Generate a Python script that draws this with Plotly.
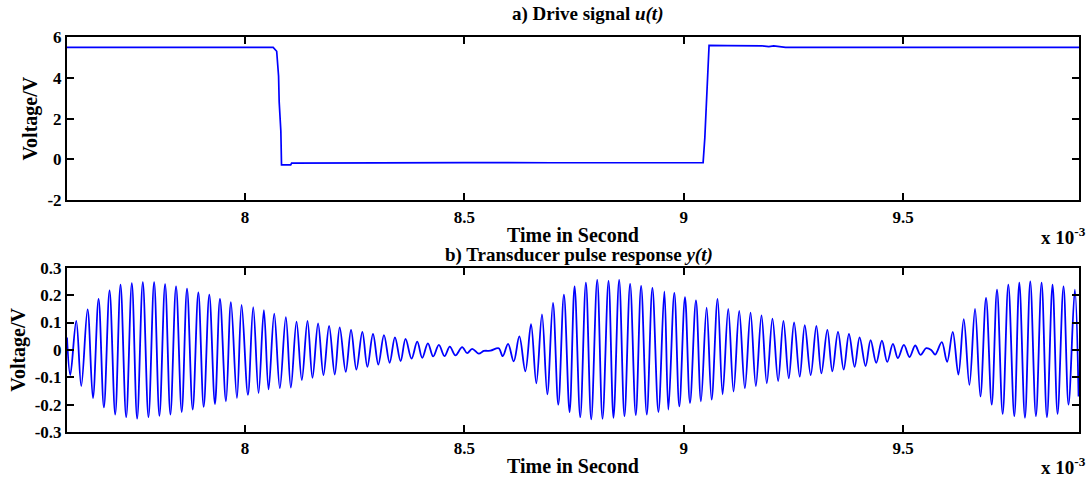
import plotly.graph_objects as go
from plotly.subplots import make_subplots

# ---- data (time in units of 1e-3 s) ----
# a) Drive signal u(t)
u_t = [7.594, 7.70, 7.82, 7.90, 8.064, 8.072, 8.0763, 8.0777, 8.0815, 8.083, 8.104, 8.106,
       8.30, 8.50, 8.70, 8.90, 9.0441, 9.048, 9.0516, 9.0547, 9.0577, 9.10, 9.178, 9.194,
       9.205, 9.232, 9.50, 9.901]
u_v = [5.49, 5.49, 5.51, 5.49, 5.49, 5.30, 4.09, 2.82, 1.38, -0.26, -0.26, -0.18,
       -0.16, -0.15, -0.16, -0.15, -0.15, 1.06, 2.98, 3.94, 5.59, 5.58, 5.57, 5.53,
       5.56, 5.49, 5.49, 5.49]

# b) Transducer pulse response y(t): successive extremes
y_t = [7.5940, 7.6015, 7.6151, 7.6265, 7.6409, 7.6531, 7.6660, 7.6781, 7.6910, 7.7039,
       7.7160, 7.7289, 7.7418, 7.7539, 7.7668, 7.7797, 7.7926, 7.8047, 7.8176, 7.8297,
       7.8426, 7.8555, 7.8676, 7.8805, 7.8934, 7.9056, 7.9184, 7.9313, 7.9427, 7.9564,
       7.9677, 7.9814, 7.9920, 8.0064, 8.0185, 8.0307, 8.0428, 8.0535, 8.0664, 8.0792,
       8.0929, 8.1043, 8.1172, 8.1293, 8.1422, 8.1536, 8.1664, 8.1786, 8.1915, 8.2044,
       8.2157, 8.2294, 8.2415, 8.2537, 8.2673, 8.2787, 8.2916, 8.3037, 8.3166, 8.3295,
       8.3416, 8.3545, 8.3658, 8.3795, 8.3924, 8.4038, 8.4167, 8.4288, 8.4417, 8.4546,
       8.4667, 8.4796, 8.4948, 8.5062, 8.5176, 8.5327, 8.5441, 8.5593, 8.5782, 8.5873,
       8.5995, 8.6123, 8.6252, 8.6389, 8.6518, 8.6639, 8.6768, 8.6889, 8.7018, 8.7140,
       8.7268, 8.7397, 8.7511, 8.7640, 8.7769, 8.7890, 8.8027, 8.8148, 8.8285, 8.8398,
       8.8527, 8.8648, 8.8777, 8.8906, 8.9028, 8.9157, 8.9285, 8.9422, 8.9558, 8.9649,
       8.9785, 8.9899, 9.0028, 9.0142, 9.0278, 9.0392, 9.0521, 9.0635, 9.0771, 9.0885,
       9.1014, 9.1135, 9.1264, 9.1393, 9.1522, 9.1643, 9.1772, 9.1893, 9.2022, 9.2151,
       9.2272, 9.2394, 9.2515, 9.2644, 9.2758, 9.2894, 9.3023, 9.3137, 9.3273, 9.3387,
       9.3516, 9.3645, 9.3766, 9.3895, 9.4009, 9.4145, 9.4259, 9.4388, 9.4517, 9.4639,
       9.4768, 9.4881, 9.5018, 9.5147, 9.5276, 9.5397, 9.5526, 9.5640, 9.5731, 9.5882,
       9.6003, 9.6132, 9.6261, 9.6383, 9.6512, 9.6640, 9.6762, 9.6891, 9.7020, 9.7141,
       9.7270, 9.7399, 9.7535, 9.7649, 9.7778, 9.7899, 9.8028, 9.8157, 9.8279, 9.8407,
       9.8521, 9.8657, 9.8771, 9.8915, 9.9000]
y_v = [0.045, -0.092, 0.106, -0.132, 0.148, -0.176, 0.186, -0.210, 0.217, -0.236,
       0.238, -0.246, 0.244, -0.251, 0.247, -0.246, 0.247, -0.241, 0.240, -0.236,
       0.232, -0.227, 0.224, -0.218, 0.210, -0.208, 0.202, -0.198, 0.186, -0.188,
       0.174, -0.176, 0.164, -0.164, 0.156, -0.158, 0.145, -0.144, 0.132, -0.140,
       0.120, -0.138, 0.103, -0.110, 0.106, -0.102, 0.097, -0.092, 0.088, -0.090,
       0.082, -0.080, 0.073, -0.072, 0.066, -0.062, 0.058, -0.054, 0.054, -0.047,
       0.046, -0.041, 0.040, -0.032, 0.030, -0.029, 0.024, -0.024, 0.018, -0.023,
       0.012, -0.020, 0.010, -0.012, 0.004, -0.014, -0.004, -0.003, 0.006, -0.023,
       0.022, -0.042, 0.049, -0.078, 0.094, -0.122, 0.130, -0.162, 0.172, -0.200,
       0.202, -0.227, 0.232, -0.246, 0.246, -0.254, 0.256, -0.252, 0.252, -0.248,
       0.256, -0.242, 0.241, -0.238, 0.234, -0.236, 0.226, -0.227, 0.214, -0.218,
       0.208, -0.206, 0.193, -0.194, 0.181, -0.188, 0.154, -0.182, 0.186, -0.162,
       0.150, -0.152, 0.142, -0.140, 0.136, -0.132, 0.126, -0.122, 0.114, -0.114,
       0.106, -0.104, 0.100, -0.098, 0.090, -0.092, 0.088, -0.086, 0.073, -0.078,
       0.066, -0.072, 0.058, -0.062, 0.046, -0.059, 0.036, -0.047, 0.034, -0.044,
       0.022, -0.030, 0.018, -0.026, 0.016, -0.018, 0.006, 0.000, -0.017, 0.028,
       -0.044, 0.066, -0.090, 0.112, -0.128, 0.150, -0.170, 0.190, -0.200, 0.220,
       -0.234, 0.238, -0.242, 0.246, -0.248, 0.250, -0.242, 0.246, -0.246, 0.238,
       -0.234, 0.232, -0.200, 0.220, -0.170]

x_ticks = [8, 8.5, 9, 9.5]
x_ticktext = ["8", "8.5", "9", "9.5"]
u_ticks = [-2, 0, 2, 4, 6]
u_ticktext = ["-2", "0", "2", "4", "6"]
y_ticks = [-0.3, -0.2, -0.1, 0, 0.1, 0.2, 0.3]
y_ticktext = ["-0.3", "-0.2", "-0.1", "0", "0.1", "0.2", "0.3"]

FONT = "Liberation Serif"
BLUE = "#0000ff"

fig = make_subplots(rows=2, cols=1, vertical_spacing=0.17)

fig.add_trace(go.Scatter(x=u_t, y=u_v, mode="lines",
                         line=dict(color=BLUE, width=1.7)), row=1, col=1)
fig.add_trace(go.Scatter(x=y_t, y=y_v, mode="lines",
                         line=dict(color=BLUE, width=1.8, shape="spline", smoothing=1.0)),
              row=2, col=1)

axis_common = dict(showline=True, linecolor="black", linewidth=2, mirror="ticks",
                   ticks="inside", ticklen=7, tickwidth=1.5, tickcolor="black",
                   showgrid=False, zeroline=False,
                   tickfont=dict(family=FONT, size=17, color="black", weight="bold"))

for r in (1, 2):
    fig.update_xaxes(range=[7.594, 9.901], tickvals=x_ticks, ticktext=x_ticktext,
                     title=dict(text="<b>Time in Second</b>", standoff=2,
                                font=dict(family=FONT, size=20, color="black")),
                     row=r, col=1, **axis_common)

fig.update_yaxes(range=[-2, 6], tickvals=u_ticks, ticktext=u_ticktext,
                 title=dict(text="<b>Voltage/V</b>", standoff=4,
                            font=dict(family=FONT, size=20, color="black")),
                 row=1, col=1, **axis_common)
fig.update_yaxes(range=[-0.3, 0.3], tickvals=y_ticks, ticktext=y_ticktext,
                 title=dict(text="<b>Voltage/V</b>", standoff=4,
                            font=dict(family=FONT, size=20, color="black")),
                 row=2, col=1, **axis_common)

fig.update_layout(
    width=1091, height=484,
    margin=dict(l=67, r=10, t=37, b=43),
    plot_bgcolor="white", paper_bgcolor="white",
    showlegend=False,
    font=dict(family=FONT, color="black"),
)
fig.update_yaxes(domain=[0.5866, 1.0], row=1, col=1)
fig.update_yaxes(domain=[0.0, 0.4158], row=2, col=1)

ann_font = dict(family=FONT, size=19, color="black")
fig.add_annotation(text="<b>a) Drive signal <i>u(t)</i></b>", xref="paper", yref="paper",
                   x=0.514, y=1.0, yanchor="middle", yshift=23, showarrow=False, font=ann_font)
fig.add_annotation(text="<b>b) Transducer pulse response <i>y(t)</i></b>", xref="paper", yref="paper",
                   x=0.506, y=0.4158, yanchor="middle", yshift=13, showarrow=False, font=ann_font)
exp_font = dict(family=FONT, size=19, color="black")
fig.add_annotation(text="<b>x 10<sup>-3</sup></b>", xref="paper", yref="paper",
                   x=1.0, y=0.5866, xanchor="right", yanchor="top", yshift=-22, xshift=9,
                   showarrow=False, font=exp_font)
fig.add_annotation(text="<b>x 10<sup>-3</sup></b>", xref="paper", yref="paper",
                   x=1.0, y=0.0, xanchor="right", yanchor="top", yshift=-20, xshift=9,
                   showarrow=False, font=exp_font)

fig.write_html("out.html")
